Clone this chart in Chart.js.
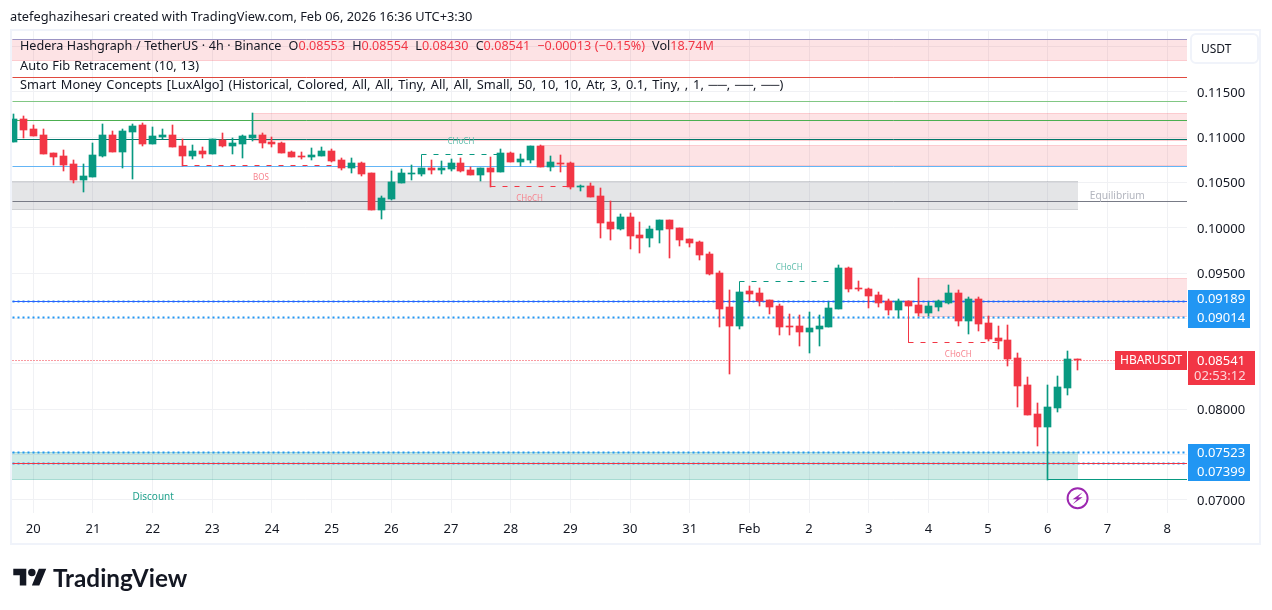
<!DOCTYPE html>
<html>
<head>
<meta charset="utf-8">
<title>HBARUSDT</title>
<script src="https://cdn.jsdelivr.net/npm/chart.js@4/dist/chart.umd.min.js"></script>
<style>
  html, body { margin: 0; padding: 0; background: #fff; }
  body { width: 1272px; height: 610px; position: relative; overflow: hidden; font-family: 'Noto Sans', sans-serif; color: #131722; }
  canvas { position: absolute; left: 0; top: 0; }
  .txt { position: absolute; white-space: nowrap; font-size: 12.8px; line-height: 16px; word-spacing: 1.45px; }
  .r { color: #f23645; }
  #logo { position: absolute; left: 13px; top: 565px; }
  #brand { position: absolute; left: 53px; top: 563px; font-family: Lato, sans-serif; font-weight: 700; font-size: 24.3px; line-height: 30px; color: #131722; }
</style>
</head>
<body>
<canvas id="chart" width="1272" height="610"></canvas>
<div class="txt" style="left:10px;top:8px;word-spacing:0">atefeghazihesari created with TradingView.com, Feb 06, 2026 16:36 UTC+3:30</div>
<div class="txt" style="left:20px;top:38px;font-size:12.6px;word-spacing:.3px">Hedera Hashgraph / TetherUS · 4h · Binance &nbsp;O<span class="r">0.08553</span> &nbsp;H<span class="r">0.08554</span> &nbsp;L<span class="r">0.08430</span> &nbsp;C<span class="r">0.08541</span> &nbsp;<span class="r">−0.00013 (−0.15%)</span> &nbsp;Vol<span class="r">18.74M</span></div>
<div class="txt" style="left:20px;top:57px;word-spacing:.5px">Auto Fib Retracement (10, 13)</div>
<div class="txt" style="left:20px;top:76px">Smart Money Concepts [LuxAlgo] (Historical, Colored, All, All, Tiny, All, All, Small, 50, 10, 10, Atr, 3, 0.1, Tiny, , 1, ──, ──, ──)</div>
<svg id="logo" width="34" height="26" viewBox="0 0 36 28"><path fill="#131722" d="M14 22H7V11H0V4h14v18zM28 22h-8l7.5-18h8L28 22z"/><circle fill="#131722" cx="20" cy="8" r="4"/></svg>
<div id="brand">TradingView</div>

<script>
// candles, 4h, oldest first
const opens = [.10948,.11202,.11092,.11026,.10827,.10794,.10706,.10529,.10563,.10794,.11026,.10838,.11059,.11136,.10926,.11004,.11026,.10904,.10794,.10849,.10816,.10970,.10904,.10926,.10993,.11026,.10948,.10937,.10838,.10794,.10783,.10794,.10849,.10750,.10662,.10717,.10607,.10198,.10320,.10496,.10596,.10596,.10662,.10640,.10651,.10717,.10640,.10585,.10662,.10618,.10827,.10728,.10750,.10904,.10673,.10717,.10717,.10452,.10463,.10353,.10066,.09989,.10121,.09923,.09890,.09978,.10088,.10000,.09879,.09846,.09713,.09504,.09129,.08919,.09305,.09283,.09206,.09140,.08919,.08919,.08853,.08886,.08908,.09107,.09559,.09338,.09327,.09261,.09195,.09096,.09195,.09151,.09063,.09129,.09173,.09283,.08974,.09217,.08952,.08787,.08765,.08566,.08268,.07948,.07805,.08015,.08235,.08553];
const highs = [.11257,.11235,.11136,.11092,.10827,.10860,.10750,.10706,.10937,.11147,.11070,.11092,.11147,.11158,.11114,.11092,.11136,.10982,.10915,.10893,.10982,.11048,.10993,.11026,.11268,.11048,.11004,.10948,.10849,.10838,.10882,.10893,.10871,.10772,.10772,.10728,.10607,.10353,.10629,.10651,.10695,.10662,.10750,.10739,.10761,.10772,.10673,.10662,.10783,.10871,.10838,.10816,.10904,.10915,.10794,.10805,.10728,.10474,.10496,.10441,.10298,.10154,.10165,.10066,.10022,.10088,.10088,.10000,.09879,.09857,.09735,.09526,.09316,.09294,.09360,.09338,.09206,.09162,.09052,.09041,.09074,.09041,.09184,.09592,.09570,.09415,.09338,.09294,.09217,.09217,.09195,.09449,.09184,.09206,.09371,.09316,.09239,.09239,.09030,.08919,.08930,.08621,.08357,.08070,.08268,.08368,.08643,.08554];
const lows = [.10948,.10993,.11015,.10816,.10695,.10629,.10496,.10397,.10563,.10783,.10838,.10662,.10541,.10904,.10926,.10982,.10893,.10684,.10761,.10772,.10816,.10893,.10816,.10772,.10959,.10882,.10893,.10827,.10783,.10761,.10750,.10794,.10728,.10640,.10607,.10574,.10198,.10099,.10309,.10496,.10529,.10574,.10596,.10596,.10629,.10618,.10585,.10518,.10452,.10618,.10728,.10684,.10717,.10673,.10629,.10618,.10430,.10408,.10342,.09890,.09868,.09978,.09769,.09724,.09791,.09835,.09669,.09802,.09791,.09647,.09482,.08908,.08390,.08886,.09195,.09140,.09052,.08820,.08820,.08699,.08621,.08699,.08908,.09107,.09294,.09305,.09118,.09129,.09041,.09008,.09140,.09030,.09030,.09085,.09162,.08919,.08831,.08864,.08754,.08665,.08478,.08026,.07937,.07596,.07221,.07970,.08158,.08430];
const closes = [.11202,.11081,.11015,.10816,.10783,.10695,.10529,.10574,.10805,.11026,.10838,.11070,.11125,.10926,.11015,.11026,.10893,.10794,.10849,.10816,.10982,.10904,.10937,.11015,.11026,.10937,.10926,.10827,.10783,.10783,.10805,.10849,.10739,.10662,.10717,.10596,.10198,.10331,.10507,.10607,.10607,.10662,.10640,.10662,.10717,.10629,.10585,.10662,.10618,.10827,.10728,.10761,.10904,.10673,.10728,.10706,.10452,.10463,.10342,.10055,.09989,.10121,.09912,.09890,.09989,.10088,.09989,.09868,.09835,.09702,.09493,.09107,.08919,.09294,.09272,.09195,.09129,.08908,.08908,.08853,.08897,.08919,.09118,.09559,.09327,.09327,.09250,.09173,.09096,.09195,.09140,.09063,.09140,.09195,.09283,.08974,.09217,.08941,.08776,.08754,.08555,.08257,.07937,.07805,.08026,.08246,.08555,.08541];

// axes
const dayTicks = [2,8,14,20,26,32,38,44,50,56,62,68,74,80,86,92,98,104,110,116];
const dayLabels = ['20','21','22','23','24','25','26','27','28','29','30','31','Feb','2','3','4','5','6','7','8'];
const priceTicks = [.07,.075,.08,.085,.09,.095,.10,.105,.11,.115,.12];
const priceLabels = ['0.07000','','0.08000','','','0.09500','0.10000','0.10500','0.11000','0.11500',''];
const xMin = -0.14, xMax = 118;
const lastIdx = 107;

// fib and level lines
const levelValues = [.12079,.11662,.11397,.11188,.10978,.10680,.10295,.09189,.09189,.09014,.08541,.07523,.07399,.07399];
const levelColors = ['#9c94c4','#e04a3f','#81c784','#4caf50','#00796b','#64b5f6','#787b86','#2962ff','#2196f3','#2196f3','#f23645','#2196f3','#f23645','#2196f3'];
const levelWidths = [1,1,1,1,1,1,1,1,2,2,1,2,1,2];
const levelDashes = [[],[],[],[],[],[],[],[],[2,3],[2,3],[1,2],[2,3],[],[2,3]];

// supply / demand zones
const zoneFrom = [xMin,24,53,xMin,91,xMin];
const zoneTo = [xMax,xMax,xMax,107,xMax,107];
const zoneTop = [.12079,.11268,.10915,.10518,.09449,.07524];
const zoneBottom = [.11845,.10959,.10684,.10198,.09013,.07221];
const zoneColors = ['rgba(242,54,69,.14)','rgba(242,54,69,.14)','rgba(242,54,69,.14)','rgba(120,123,134,.2)','rgba(242,54,69,.14)','rgba(8,153,129,.2)'];

// structure brackets
const bracketStart = [17,41,48,73,90];
const bracketEnd = [32,49,56,83,99];
const bracketFrom = [.10684,.10662,.10618,.09294,.09140];
const bracketLevel = [.10684,.10805,.10455,.09412,.08739];
const bracketColors = ['#f23645','#089981','#f23645','#089981','#f23645'];

// text notes on the chart
const noteTexts = ['BOS','CHoCH','CHoCH','CHoCH','CHoCH','Equilibrium','Discount'];
const noteIdx = [24.9,45,51.9,78,95,111,14.05];
const notePrice = [.10551,.10948,.10320,.09559,.08599,.10347,.07033];
const noteColors = ['#f7848f','#5fbdac','#f7848f','#5fbdac','#f7848f','#b2b5be','#22a28d'];
const noteFonts = [8,8,8,8,8,10.2,10];

// right side price tags
const tagValues = ['0.09189','0.09014','0.07523','0.07399'];
const lastPrice = .08541;
const lastLabel = '0.08541';
const countdown = '02:53:12';
const symbol = 'HBARUSDT';

const GREEN = '#089981', RED = '#f23645';
const candleColors = closes.map((c, i) => c >= opens[i] ? GREEN : RED);
const idx = closes.map((c, i) => i);

const levelSets = levelValues.map((v, i) => ({
  type: 'line', order: 5,
  data: [{x: xMin, y: v}, {x: xMax, y: v}],
  borderColor: levelColors[i], borderWidth: levelWidths[i], borderDash: levelDashes[i],
  pointRadius: 0
}));

// the last swing low line runs from the wick to the axis
levelSets.push({
  type: 'line', order: 5,
  data: [{x: 104, y: lows[104]}, {x: xMax, y: lows[104]}],
  borderColor: GREEN, borderWidth: 1, pointRadius: 0
});

// solid stem up to the level, dashed run along it
const bracketStems = bracketStart.map((s, i) => ({
  type: 'line', order: 4,
  data: [{x: s, y: bracketFrom[i]}, {x: s, y: bracketLevel[i]}],
  borderColor: bracketColors[i], borderWidth: 1, pointRadius: 0
}));
const bracketRuns = bracketStart.map((s, i) => ({
  type: 'line', order: 4,
  data: [{x: s, y: bracketLevel[i]}, {x: bracketEnd[i], y: bracketLevel[i]}],
  borderColor: bracketColors[i], borderWidth: 1, borderDash: [5, 7], pointRadius: 0
}));

const zonesPlugin = {
  id: 'zones',
  beforeDatasetsDraw(chart) {
    const {ctx, scales: {x, y}} = chart;
    ctx.save();
    zoneFrom.forEach((f, i) => {
      const l = Math.round(x.getPixelForValue(f));
      const r = Math.round(x.getPixelForValue(zoneTo[i]));
      const t = Math.round(y.getPixelForValue(zoneTop[i]));
      const b = Math.round(y.getPixelForValue(zoneBottom[i]));
      ctx.fillStyle = zoneColors[i];
      ctx.fillRect(l, t, r - l, b - t);
      ctx.fillRect(l, t, r - l, 1);
      ctx.fillRect(l, b - 1, r - l, 1);
    });
    ctx.restore();
  }
};

// snap to whole pixels so candles and lines stay crisp
const snapPlugin = {
  id: 'snap',
  afterDatasetsUpdate(chart) {
    chart.data.datasets.forEach((ds, d) => {
      chart.getDatasetMeta(d).data.forEach(el => {
        el.x = Math.round(el.x - 0.5) + 0.5;
        if (ds.type === 'bar') {
          const top = Math.round(el.y), bot = Math.round(el.base);
          el.y = top;
          el.base = bot === top ? top + 1 : bot;
          el.height = el.base - el.y;
        } else {
          el.y = Math.round(el.y - 0.5) + 0.5;
        }
      });
    });
  }
};

function tag(ctx, l, t, r, b, color) {
  ctx.fillStyle = color;
  ctx.fillRect(l, t, r - l, b - t);
}

const overlayPlugin = {
  id: 'overlay',
  afterDraw(chart) {
    const {ctx, scales: {x, y}, chartArea} = chart;
    ctx.save();

    // chart frame
    ctx.strokeStyle = '#f0f3fa';
    ctx.lineWidth = 2;
    ctx.strokeRect(11, 30, 1249, 514);

    // notes
    ctx.textAlign = 'center';
    ctx.textBaseline = 'middle';
    noteTexts.forEach((t, i) => {
      ctx.font = noteFonts[i] + 'px "Noto Sans"';
      ctx.fillStyle = noteColors[i];
      ctx.fillText(t, x.getPixelForValue(noteIdx[i]), y.getPixelForValue(notePrice[i]));
    });

    // USDT button
    ctx.fillStyle = '#fff';
    ctx.strokeStyle = '#f0f3fa';
    ctx.lineWidth = 2;
    ctx.beginPath();
    ctx.roundRect(1191, 34, 67, 29, 5);
    ctx.fill();
    ctx.stroke();
    ctx.fillStyle = '#131722';
    ctx.font = '12px "Noto Sans"';
    ctx.textAlign = 'left';
    ctx.fillText('USDT', 1201, 49.5);

    // price tags, nudged apart like the platform does
    ctx.font = '13px "Noto Sans"';
    const ax = chartArea.right + 1;
    const py = v => y.getPixelForValue(v);
    const pY = Math.round(py(levelValues[7]));
    tag(ctx, ax, pY - 12, 1250, pY + 26, '#2196f3');
    const qY = Math.round(py(levelValues[11]));
    tag(ctx, ax, qY - 9, 1250, qY + 28, '#2196f3');
    ctx.fillStyle = '#fff';
    ctx.fillText(tagValues[0], 1197, pY - 3);
    ctx.fillText(tagValues[1], 1197, pY + 16);
    ctx.fillText(tagValues[2], 1197, qY);
    ctx.fillText(tagValues[3], 1197, qY + 19);

    const lY = Math.round(py(lastPrice));
    tag(ctx, ax, lY - 9, 1255, lY + 25, RED);
    tag(ctx, 1115, lY - 9, chartArea.right, lY + 10, RED);
    ctx.fillStyle = '#fff';
    ctx.fillText(lastLabel, 1197, lY + 1);
    ctx.fillStyle = 'rgba(255,255,255,.8)';
    ctx.fillText(countdown, 1194, lY + 16);
    ctx.fillStyle = '#fff';
    ctx.font = '12px "Noto Sans"';
    ctx.fillText(symbol, 1120, lY + 1);

    // earnings style marker below the last candle
    const mx = x.getPixelForValue(lastIdx), my = py(.0702);
    ctx.strokeStyle = '#9c27b0';
    ctx.fillStyle = '#9c27b0';
    ctx.lineWidth = 2;
    ctx.beginPath();
    ctx.arc(mx, my, 10, 0, Math.PI * 2);
    ctx.stroke();
    ctx.beginPath();
    ctx.moveTo(mx + 5, my - 6);
    ctx.lineTo(mx - 5, my + 1);
    ctx.lineTo(mx - 0.5, my + 1);
    ctx.lineTo(mx - 5, my + 6);
    ctx.lineTo(mx + 5, my - 1);
    ctx.lineTo(mx + 0.5, my - 1);
    ctx.closePath();
    ctx.fill();
    ctx.restore();
  }
};

new Chart(document.getElementById('chart'), {
  data: {
    datasets: [
      ...levelSets,
      ...bracketStems,
      ...bracketRuns,
      {
        type: 'bar', order: 2, grouped: false, barThickness: 1,
        data: idx.map(i => ({x: i, y: [lows[i], highs[i]]})),
        backgroundColor: candleColors
      },
      {
        type: 'bar', order: 1, grouped: false, barThickness: 7,
        data: idx.map(i => ({x: i, y: [opens[i], closes[i]]})),
        backgroundColor: candleColors
      }
    ]
  },
  plugins: [zonesPlugin, snapPlugin, overlayPlugin],
  options: {
    responsive: false,
    animation: false,
    layout: { padding: { left: 12, top: 31, right: 12, bottom: 66 } },
    plugins: { legend: { display: false }, tooltip: { enabled: false } },
    scales: {
      x: {
        type: 'linear', min: xMin, max: xMax, offset: false,
        afterFit: s => { s.height = 31; },
        afterBuildTicks: s => { s.ticks = dayTicks.map(v => ({value: v})); },
        grid: { color: '#f0f1f4', drawTicks: false, offset: false },
        border: { display: false },
        ticks: {
          autoSkip: false, maxRotation: 0, padding: 8, color: '#131722',
          font: { family: 'Noto Sans', size: 13 },
          callback: v => dayLabels[dayTicks.indexOf(v)]
        }
      },
      y: {
        type: 'linear', position: 'right', min: .068566, max: .121726,
        afterFit: s => { s.width = 73; },
        afterBuildTicks: s => { s.ticks = priceTicks.map(v => ({value: v})); },
        grid: { color: '#f0f1f4', drawTicks: false },
        border: { display: false },
        ticks: {
          padding: 10, labelOffset: 1, color: '#131722',
          font: { family: 'Noto Sans', size: 13 },
          callback: v => priceLabels[priceTicks.indexOf(v)]
        }
      }
    }
  }
});
</script>
</body>
</html>
